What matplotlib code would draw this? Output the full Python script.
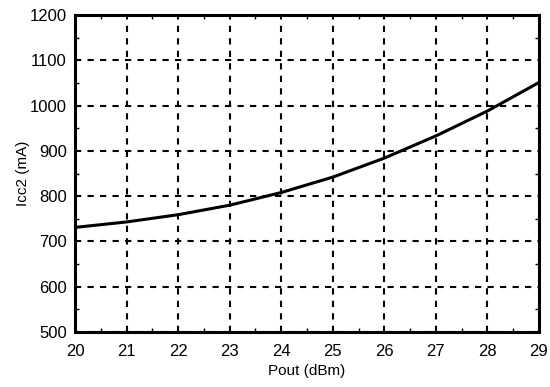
import matplotlib
matplotlib.use("Agg")
import matplotlib.pyplot as plt
from matplotlib.ticker import MultipleLocator

plt.rcParams['font.family'] = ['Liberation Sans', 'DejaVu Sans']

pout = [20, 21, 22, 23, 24, 25, 26, 27, 28, 29]
icc2 = [731, 743, 759, 780, 808, 842, 884, 933, 988, 1051]

fig = plt.figure(figsize=(5.5, 3.87), dpi=100)
ax = fig.add_axes([75/550, 1-332/387, (539-75)/550, (332-15)/387])

ax.plot(pout, icc2, color='black', lw=2.2)
ax.set_xlim(20, 29)
ax.set_ylim(500, 1200)
ax.xaxis.set_major_locator(MultipleLocator(1))
ax.yaxis.set_major_locator(MultipleLocator(100))
ax.xaxis.set_minor_locator(MultipleLocator(0.5))
ax.yaxis.set_minor_locator(MultipleLocator(50))
ax.grid(True, which='major', color='black', linestyle=(0, (3, 3)), lw=1.5)
ax.tick_params(axis='x', which='major', length=0, labelsize=12, pad=9)
ax.tick_params(axis='y', which='major', length=0, labelsize=12, pad=6)
ax.tick_params(which='minor', direction='in', length=3, width=1, top=True, right=True)
for s in ax.spines.values():
    s.set_linewidth(2.2)
ax.set_xlabel('Pout (dBm)', fontsize=11, labelpad=3)
ax.set_ylabel('Icc2 (mA)', fontsize=11, labelpad=0)

fig.savefig('out.png', dpi=100)
